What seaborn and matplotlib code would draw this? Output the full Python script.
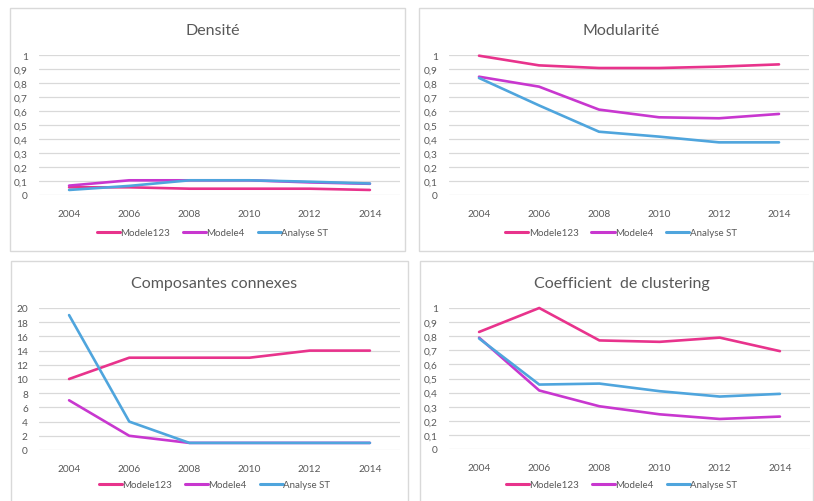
import matplotlib
matplotlib.use("Agg")
import matplotlib.pyplot as plt
import pandas as pd
import seaborn as sns
from matplotlib.patches import Rectangle

sns.set_style("white")
plt.rcParams["font.family"] = ["Lato", "DejaVu Sans"]

# données
annees = ["2004", "2006", "2008", "2010", "2012", "2014"]
series = ["Modele123", "Modele4", "Analyse ST"]

densite_m123 = [0.055, 0.055, 0.045, 0.045, 0.045, 0.036]
densite_m4 = [0.067, 0.105, 0.105, 0.105, 0.09, 0.08]
densite_st = [0.036, 0.065, 0.105, 0.105, 0.095, 0.082]

modul_m123 = [0.995, 0.926, 0.907, 0.907, 0.917, 0.933]
modul_m4 = [0.845, 0.774, 0.61, 0.555, 0.548, 0.579]
modul_st = [0.836, 0.64, 0.452, 0.417, 0.376, 0.376]

compo_m123 = [10, 13, 13, 13, 14, 14]
compo_m4 = [7, 2, 1, 1, 1, 1]
compo_st = [19, 4, 1, 1, 1, 1]

clust_m123 = [0.83, 1.0, 0.77, 0.76, 0.79, 0.694]
clust_m4 = [0.79, 0.415, 0.303, 0.246, 0.213, 0.23]
clust_st = [0.784, 0.457, 0.464, 0.41, 0.372, 0.391]

couleurs = {"Modele123": "#E8338C", "Modele4": "#C837CF", "Analyse ST": "#4FA5DD"}

W, H = 814, 502
fig = plt.figure(figsize=(W / 100, H / 100), dpi=100)


def px_axes(x0, y0, x1, y1):
    return fig.add_axes([x0 / W, 1 - y1 / H, (x1 - x0) / W, (y1 - y0) / H])


def cadre(x0, y0, x1, y1):
    fig.patches.append(
        Rectangle((x0 / W, 1 - y1 / H), (x1 - x0) / W, (y1 - y0) / H,
                  transform=fig.transFigure, fill=False,
                  edgecolor="#D9D9D9", linewidth=1.0)
    )


def panneau(box, ax_px, titre, m123, m4, st, ymax, pas, labels_y, leg_y):
    cadre(*box)
    ax = px_axes(*ax_px)
    df = pd.DataFrame({
        "x": list(range(len(annees))) * 3,
        "val": m123 + m4 + st,
        "serie": [series[0]] * 6 + [series[1]] * 6 + [series[2]] * 6,
    })
    sns.lineplot(data=df, x="x", y="val", hue="serie", palette=couleurs,
                 linewidth=1.9, ax=ax, legend=False, clip_on=False)
    ax.set_xlim(-0.5, len(annees) - 0.5)
    ax.set_ylim(0, ymax)
    ticks = [i * pas for i in range(len(labels_y))]
    ax.set_yticks(ticks)
    ax.set_yticklabels(labels_y)
    ax.set_xticks(range(len(annees)))
    ax.set_xticklabels(annees)
    ax.grid(axis="y", color="#D9D9D9", linewidth=0.9)
    ax.set_axisbelow(True)
    for s in ax.spines.values():
        s.set_visible(False)
    ax.tick_params(axis="both", length=0, labelsize=7.3, colors="#595959")
    ax.tick_params(axis="y", pad=8)
    ax.tick_params(axis="x", pad=10)
    ax.set_xlabel("")
    ax.set_ylabel("")
    cx = (box[0] + box[2]) / 2 + 5
    fig.text(cx / W, 1 - (box[1] + 22) / H, titre, ha="center", va="center",
             fontsize=11.5, color="#595959")
    handles = [plt.Line2D([], [], color=couleurs[s], linewidth=2.2) for s in series]
    fig.legend(handles, series, loc="center", bbox_to_anchor=(cx / W, 1 - leg_y / H),
               ncol=3, frameon=False, fontsize=7.0, handlelength=2.4,
               handletextpad=0.05, columnspacing=1.3, labelcolor="#595959")
    return ax


lab01 = ["0", "0,1", "0,2", "0,3", "0,4", "0,5", "0,6", "0,7", "0,8", "0,9", "1"]
lab20 = [str(v) for v in range(0, 21, 2)]

panneau((10, 9, 405, 252), (39, 56, 400, 196), "Densité",
        densite_m123, densite_m4, densite_st, 1, 0.1, lab01, 234)
panneau((419, 9, 813, 252), (449, 56, 809, 196), "Modularité",
        modul_m123, modul_m4, modul_st, 1, 0.1, lab01, 234)
panneau((11, 262, 408, 510), (39, 309, 400, 451), "Composantes connexes",
        compo_m123, compo_m4, compo_st, 20, 2, lab20, 486)
panneau((420, 262, 813, 510), (449, 309, 810, 450), "Coefficient  de clustering",
        clust_m123, clust_m4, clust_st, 1, 0.1, lab01, 486)

fig.savefig("out.png", dpi=100)
